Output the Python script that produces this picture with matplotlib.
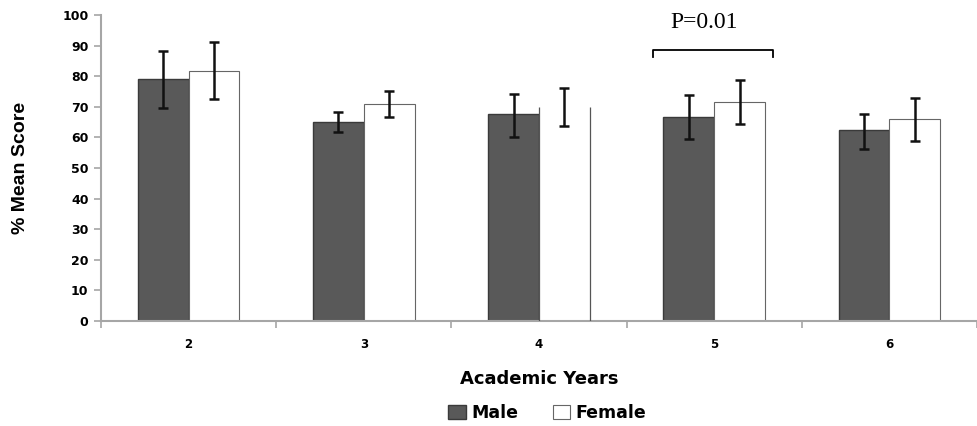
import numpy as np
import matplotlib
matplotlib.use("Agg")
import matplotlib.pyplot as plt

# Data
years = ["2", "3", "4", "5", "6"]
male_mean = [79.0, 64.9, 67.5, 66.6, 62.3]
male_low = [69.6, 61.7, 60.1, 59.5, 56.3]
male_high = [88.2, 68.3, 74.3, 74.0, 67.6]
female_mean = [81.7, 70.8, 70.0, 71.5, 65.9]
female_low = [72.5, 66.7, 63.8, 64.4, 58.7]
female_high = [91.2, 75.2, 76.2, 78.8, 73.0]

p_text = "P=0.01"
p_group = 3  # year 5
bracket_level = 88.6
bracket_tip = 86.2

AXIS_GREY = "#a6a6a6"

fig = plt.figure(figsize=(9.77, 4.26), dpi=100)
ax = fig.add_axes([0.1034, 0.2465, 0.8966, 0.7183])

x = np.arange(len(years)) + 2
w = 0.29

m_err = [np.array(male_mean) - np.array(male_low), np.array(male_high) - np.array(male_mean)]
f_err = [np.array(female_mean) - np.array(female_low), np.array(female_high) - np.array(female_mean)]

male_bars = ax.bar(x - w / 2, male_mean, w, color="#595959", edgecolor="#3a3a3a",
                   linewidth=1.0, label="Male", zorder=2)
female_bars = ax.bar(x + w / 2, female_mean, w, color="white", edgecolor="#666666",
                     linewidth=0.8, label="Female", zorder=2)

# year 4 female bar has only its side edges drawn in the original
odd = female_bars.patches[2]
odd.set_linewidth(0)
ax.vlines([odd.get_x(), odd.get_x() + odd.get_width()], 0, odd.get_height(),
          color="#555555", linewidth=0.9, zorder=3)

ax.errorbar(x - w / 2, male_mean, yerr=m_err, fmt="none", ecolor="#111111",
            elinewidth=1.8, capsize=3.5, capthick=1.8, zorder=4)
ax.errorbar(x + w / 2, female_mean, yerr=f_err, fmt="none", ecolor="#111111",
            elinewidth=1.8, capsize=3.5, capthick=1.8, zorder=4)

# significance bracket over year 5
cx = x[p_group]
bx0, bx1 = cx - 0.352, cx + 0.335
ax.plot([bx0, bx0, bx1, bx1], [bracket_tip, bracket_level, bracket_level, bracket_tip],
        color="black", linewidth=1.3, zorder=5, clip_on=False)
ax.text((bx0 + bx1) / 2 - 0.05, 94.2, p_text, ha="center", va="bottom",
        fontsize=17, family="Liberation Serif")

ax.set_xlim(1.5, 6.477)
ax.set_ylim(0, 100)
ax.set_yticks(np.arange(0, 101, 10))
ax.tick_params(axis="y", direction="out", length=5, width=1.2, color=AXIS_GREY,
               labelsize=9, pad=4)
for lab in ax.get_yticklabels():
    lab.set_fontweight("bold")

# category boundaries as major ticks, labels as minor ticks
ax.set_xticks(np.arange(1.5, 7, 1.0))
ax.set_xticklabels([])
ax.tick_params(axis="x", which="major", direction="out", length=5, width=1.2, color=AXIS_GREY)
ax.set_xticks(x, minor=True)
ax.set_xticklabels(years, minor=True, fontsize=8.5, fontweight="bold")
ax.tick_params(axis="x", which="minor", length=0, pad=12)

for s in ["top", "right"]:
    ax.spines[s].set_visible(False)
for s in ["left", "bottom"]:
    ax.spines[s].set_color(AXIS_GREY)
    ax.spines[s].set_linewidth(1.5)

ax.set_ylabel("% Mean Score", fontsize=14, fontweight="bold", family="Liberation Sans",
              labelpad=24)
ax.set_xlabel("Academic Years", fontsize=13, fontweight="bold", labelpad=14)

fig.legend(handles=[male_bars, female_bars], labels=["Male", "Female"], loc="center",
           bbox_to_anchor=(0.56, 0.03), ncol=2, frameon=False,
           prop={"weight": "bold", "size": 12.5}, handlelength=1.0, handleheight=0.9,
           handletextpad=0.3, columnspacing=2.0)

fig.savefig("out.png", dpi=100)
